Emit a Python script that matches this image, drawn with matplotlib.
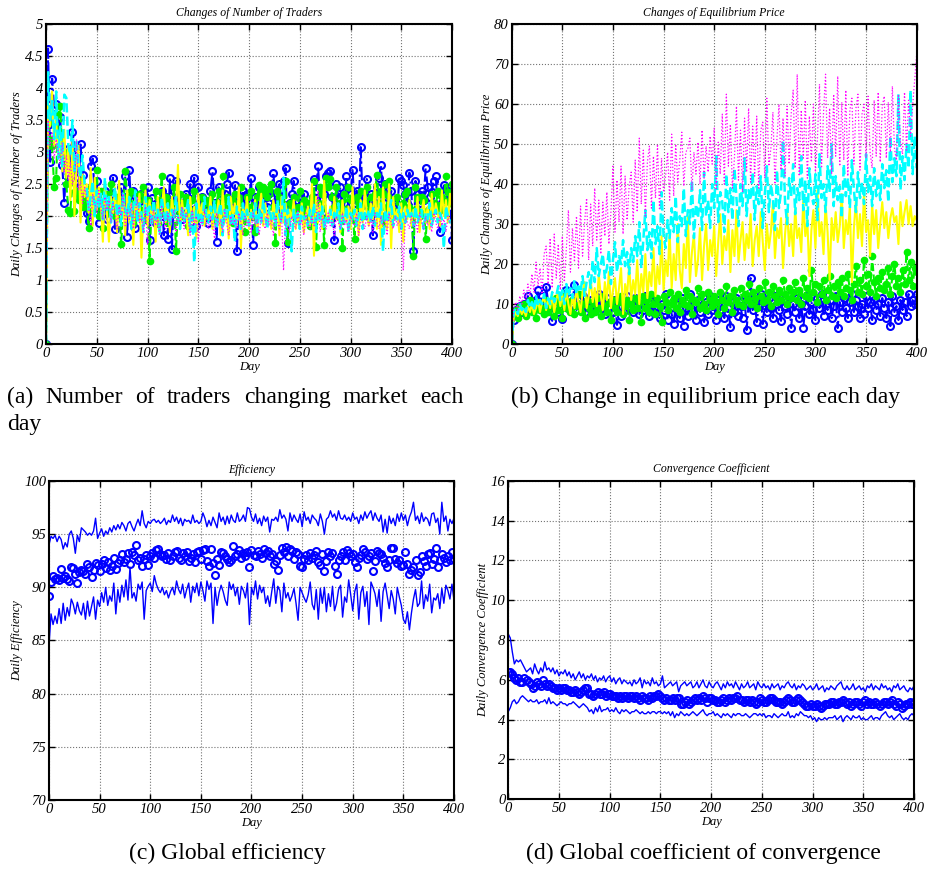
import numpy as np
import matplotlib.pyplot as plt
from matplotlib.ticker import FormatStrFormatter

# days sampled every 2 days
days = np.arange(0, 401, 2)

# ---- (a) Changes of Number of Traders ----
traders_blue = [
    0, 4.62, 2.85, 4.15, 3.70, 3.75, 3.30, 3.55, 2.80, 2.20, 2.90, 3.05, 2.60, 3.32, 3.10, 2.75, 2.45, 3.12, 2.65, 2.35,
    2.05, 1.93, 2.78, 2.90, 2.30, 2.55, 1.90, 2.20, 2.05, 2.40, 1.95, 2.15, 2.35, 2.60, 1.80, 2.25, 2.05, 2.45, 2.30, 2.62,
    1.68, 2.72, 2.10, 2.40, 1.82, 2.25, 2.00, 2.35, 2.15, 1.95, 2.45, 1.62, 2.28, 2.10, 1.90, 2.20, 2.05, 2.40, 1.70, 2.30,
    1.65, 2.60, 1.48, 2.40, 2.55, 2.10, 2.30, 1.95, 2.15, 2.35, 2.05, 2.50, 2.20, 2.60, 1.85, 2.45, 2.10, 2.30, 2.00, 2.20,
    1.90, 2.40, 2.70, 2.20, 1.60, 2.45, 2.30, 2.05, 2.35, 2.50, 2.68, 2.25, 1.95, 2.48, 1.45, 2.30, 2.15, 2.40, 2.10, 2.35,
    2.20, 2.60, 1.55, 2.30, 2.05, 2.45, 2.25, 2.40, 2.35, 2.15, 2.40, 2.30, 2.68, 2.20, 2.35, 2.50, 2.10, 2.55, 2.75, 1.58,
    2.20, 2.35, 2.55, 2.15, 2.05, 2.30, 2.20, 2.35, 2.10, 2.00, 2.15, 1.95, 2.58, 2.40, 2.78, 2.25, 2.05, 2.35, 2.62, 2.68,
    2.70, 2.30, 1.62, 2.50, 2.28, 2.45, 2.05, 2.20, 2.62, 2.10, 2.35, 2.72, 2.20, 2.40, 2.05, 3.08, 2.20, 2.30, 2.58, 2.15,
    2.35, 1.70, 2.20, 2.45, 2.60, 2.80, 2.10, 2.50, 2.30, 2.00, 2.40, 2.15, 2.25, 2.05, 2.60, 2.55, 2.48, 2.35, 2.20, 2.68,
    2.40, 1.45, 2.55, 2.35, 2.20, 2.40, 2.25, 2.75, 2.45, 2.30, 2.38, 2.55, 2.62, 2.10, 1.75, 2.20, 2.48, 2.35, 2.40, 2.30,
    1.62]
traders_green = [
    0, 3.45, 3.20, 3.10, 2.45, 2.60, 3.60, 3.72, 2.95, 3.00, 2.50, 2.10, 2.05, 2.70, 2.08, 2.40, 2.25, 2.55, 2.15, 2.35,
    2.20, 1.82, 2.45, 2.10, 2.30, 2.72, 2.00, 2.40, 1.82, 2.20, 2.35, 2.05, 2.50, 2.15, 2.00, 2.30, 2.20, 1.56, 2.10, 2.70,
    2.30, 2.05, 2.40, 1.90, 2.20, 2.00, 2.35, 2.10, 2.45, 1.95, 2.25, 1.30, 2.15, 2.00, 2.40, 1.90, 2.25, 2.62, 2.05, 2.30,
    1.90, 2.20, 2.05, 2.45, 1.45, 2.15, 2.35, 2.00, 2.20, 2.30, 1.85, 2.10, 2.25, 2.40, 1.95, 2.15, 2.05, 2.30, 2.20, 2.00,
    2.25, 2.10, 2.35, 1.95, 2.20, 2.40, 2.05, 2.62, 2.15, 2.30, 2.00, 2.25, 1.90, 2.35, 2.10, 2.20, 2.45, 2.05, 1.75, 2.30,
    2.15, 2.40, 2.00, 1.75, 2.30, 2.48, 2.35, 2.45, 2.40, 2.30, 2.42, 2.50, 2.15, 1.58, 2.40, 2.30, 2.20, 2.10, 2.55, 1.60,
    2.20, 2.05, 2.30, 1.95, 2.15, 2.40, 2.10, 2.25, 2.00, 2.20, 1.85, 2.30, 2.55, 1.52, 2.20, 2.45, 2.35, 1.55, 2.60, 2.45,
    2.58, 2.30, 2.15, 2.45, 2.00, 2.20, 1.50, 2.35, 2.10, 2.45, 2.25, 2.05, 1.65, 2.30, 2.15, 2.40, 2.00, 2.20, 2.45, 2.10,
    2.30, 2.05, 2.35, 2.65, 2.20, 2.40, 1.90, 2.50, 2.15, 2.55, 2.25, 2.10, 2.00, 2.30, 2.05, 1.98, 2.20, 2.35, 2.40, 2.15,
    2.10, 1.38, 2.45, 2.30, 2.00, 2.30, 2.25, 1.65, 2.10, 2.05, 2.35, 2.20, 2.15, 2.40, 2.10, 2.30, 2.25, 2.62, 2.38, 2.20,
    2.50]
traders_yellow = [
    0, 3.80, 3.40, 3.95, 3.10, 3.50, 2.95, 3.30, 2.70, 3.35, 2.60, 3.10, 2.25, 3.20, 2.00, 2.75, 3.10, 1.90, 2.65, 2.30,
    2.50, 2.05, 2.75, 1.85, 2.60, 2.10, 2.45, 2.20, 1.60, 2.50, 2.05, 1.60, 2.30, 2.05, 2.45, 1.75, 2.55, 1.95, 2.20, 1.70,
    2.40, 1.90, 2.20, 1.55, 2.30, 2.00, 2.35, 1.35, 2.05, 2.40, 1.85, 2.25, 1.95, 2.15, 1.60, 2.30, 1.85, 2.10, 2.45, 1.90,
    2.20, 1.75, 2.30, 2.00, 2.10, 2.80, 1.80, 2.25, 1.95, 2.10, 1.70, 2.30, 1.90, 2.15, 1.65, 2.35, 2.00, 2.20, 1.85, 2.10,
    1.95, 2.30, 1.80, 2.15, 2.00, 2.25, 1.70, 2.40, 1.90, 2.10, 1.65, 2.30, 2.00, 2.20, 1.85, 2.45, 1.50, 2.15, 1.95, 2.30,
    1.80, 2.10, 1.95, 2.25, 1.75, 2.05, 2.35, 1.85, 2.20, 1.95, 2.10, 1.80, 2.25, 2.00, 2.15, 1.70, 2.30, 1.90, 2.20, 1.85,
    2.10, 1.95, 2.25, 1.80, 2.05, 1.90, 2.20, 1.75, 2.00, 2.15, 1.85, 2.50, 1.38, 2.30, 1.90, 2.20, 1.80, 2.55, 2.05, 1.90,
    2.15, 1.85, 2.30, 1.95, 2.10, 1.75, 2.25, 2.00, 1.90, 2.15, 1.80, 2.45, 1.95, 2.10, 1.70, 2.25, 1.90, 2.40, 2.05, 1.85,
    2.20, 1.95, 2.50, 1.80, 2.30, 1.55, 2.45, 2.00, 1.80, 2.50, 1.50, 2.30, 1.95, 2.10, 1.75, 2.20, 1.60, 2.15, 1.95, 2.25,
    1.85, 2.10, 1.95, 2.30, 1.75, 2.05, 2.25, 1.90, 2.15, 1.80, 2.35, 1.95, 2.20, 2.05, 1.85, 2.40, 2.00, 2.25, 1.90, 2.35,
    2.10]
traders_cyan = [
    0, 4.25, 3.50, 3.80, 3.20, 3.95, 2.90, 3.40, 2.75, 3.90, 3.85, 3.10, 2.95, 3.50, 2.70, 3.20, 2.80, 2.60, 2.95, 2.50,
    2.45, 2.10, 2.30, 2.55, 2.00, 2.40, 2.15, 2.35, 1.95, 2.60, 2.10, 2.30, 1.90, 2.25, 2.45, 2.00, 2.20, 1.85, 2.35, 2.10,
    2.00, 2.30, 1.80, 2.15, 2.40, 1.90, 2.20, 2.05, 1.75, 2.30, 2.00, 2.15, 1.85, 2.25, 1.95, 2.10, 1.70, 2.30, 2.05, 1.90,
    2.20, 1.85, 2.10, 1.95, 2.30, 2.00, 1.80, 2.15, 1.90, 2.05, 2.25, 1.75, 2.10, 1.28, 2.20, 1.95, 2.05, 1.85, 2.30, 2.00,
    1.90, 2.15, 1.95, 2.25, 1.80, 2.05, 2.20, 1.70, 2.10, 1.95, 2.30, 1.85, 2.05, 1.60, 2.15, 2.00, 1.80, 2.20, 1.95, 2.10,
    1.85, 2.05, 1.95, 2.20, 1.75, 2.10, 1.90, 2.25, 2.00, 1.80, 2.15, 1.95, 2.05, 1.85, 2.25, 2.00, 1.90, 2.60, 1.70, 2.10,
    1.95, 1.45, 2.10, 1.90, 2.05, 1.80, 2.15, 1.95, 2.00, 1.85, 2.10, 1.90, 2.20, 1.75, 2.05, 1.95, 2.15, 1.80, 2.00, 1.90,
    2.10, 1.85, 2.05, 1.95, 2.20, 1.80, 2.00, 1.90, 2.15, 1.75, 2.05, 1.95, 2.10, 1.85, 2.00, 2.20, 1.80, 2.05, 1.95, 2.10,
    1.90, 2.15, 1.85, 2.05, 1.95, 2.20, 1.45, 2.10, 1.90, 2.05, 2.25, 1.85, 2.00, 1.95, 2.15, 1.80, 2.05, 1.90, 2.10, 1.95,
    2.05, 1.85, 2.15, 1.90, 2.00, 2.10, 1.80, 2.05, 1.95, 2.20, 1.85, 2.00, 2.10, 1.90, 2.05, 1.95, 1.50, 2.15, 2.00, 1.90,
    1.95]
traders_magenta = [
    0, 3.50, 3.10, 3.30, 2.90, 3.20, 3.00, 2.80, 3.15, 2.70, 2.95, 2.55, 2.85, 2.50, 2.60, 3.20, 2.40, 2.55, 2.20, 2.45,
    2.30, 2.15, 1.85, 2.35, 2.20, 2.05, 2.40, 2.15, 1.95, 2.30, 2.10, 2.25, 1.90, 2.20, 2.05, 1.80, 2.15, 2.00, 2.35, 1.85,
    2.10, 1.95, 2.20, 1.80, 2.05, 2.30, 1.90, 2.00, 1.75, 2.15, 1.55, 2.05, 1.90, 2.10, 1.85, 2.00, 1.70, 2.15, 1.95, 1.80,
    2.05, 1.85, 1.95, 2.10, 1.75, 2.00, 1.90, 2.15, 1.80, 2.05, 1.95, 1.70, 2.10, 1.85, 2.00, 1.60, 1.95, 1.85, 2.10, 1.90,
    1.80, 2.00, 1.90, 1.65, 2.05, 1.85, 1.95, 1.75, 2.10, 1.90, 1.70, 2.00, 1.85, 1.95, 1.80, 2.05, 1.90, 1.70, 2.00, 1.85,
    1.95, 1.75, 2.05, 1.85, 1.95, 1.70, 2.00, 1.90, 1.80, 2.05, 1.85, 1.95, 1.70, 2.00, 1.90, 1.80, 2.05, 1.15, 1.95, 1.85,
    1.75, 2.00, 1.90, 1.80, 2.10, 1.85, 1.95, 1.70, 2.05, 1.90, 1.80, 2.00, 1.85, 1.95, 2.40, 1.75, 2.00, 1.90, 1.80, 2.05,
    1.85, 1.95, 1.70, 2.00, 1.90, 1.80, 2.05, 1.85, 1.95, 1.75, 2.00, 1.90, 1.85, 2.05, 1.70, 1.95, 1.90, 1.80, 2.00, 1.85,
    1.95, 1.75, 2.05, 1.90, 1.80, 2.00, 1.85, 1.95, 1.70, 2.05, 1.90, 1.80, 2.00, 1.85, 1.95, 1.75, 1.15, 2.00, 1.90, 1.80,
    2.00, 1.85, 1.95, 1.75, 2.05, 1.90, 1.80, 2.00, 1.85, 1.95, 1.75, 2.05, 1.90, 1.80, 2.00, 1.85, 1.95, 1.75, 2.00, 1.90,
    1.85]

# ---- (b) Changes of Equilibrium Price ----
price_blue = [
    0, 6.0, 8.5, 7.5, 9.5, 8.0, 10.0, 9.0, 12.0, 8.5, 10.5, 9.0, 11.0, 13.5, 10.0, 12.0, 9.5, 14.3, 10.5, 9.0,
    5.8, 9.5, 11.0, 8.0, 10.5, 6.2, 12.5, 13.5, 9.0, 11.5, 10.0, 14.7, 8.5, 11.0, 9.5, 12.0, 8.0, 10.5, 9.0, 11.0,
    8.5, 10.5, 9.0, 12.5, 8.0, 10.0, 7.5, 11.5, 9.0, 10.5, 8.0, 11.0, 4.8, 9.5, 7.0, 10.5, 8.5, 12.0, 9.0, 10.5,
    8.0, 11.5, 9.5, 7.5, 10.0, 8.5, 12.0, 9.0, 7.0, 10.5, 8.0, 11.0, 9.5, 6.5, 10.0, 8.5, 12.5, 6.0, 9.0, 7.5,
    5.0, 10.0, 8.0, 6.5, 11.5, 4.5, 9.0, 7.0, 12.5, 8.5, 10.0, 6.0, 11.0, 8.0, 9.5, 5.5, 10.5, 7.5, 12.0, 8.5,
    9.5, 6.0, 11.0, 8.5, 10.0, 6.5, 12.0, 9.0, 4.2, 10.5, 8.0, 11.5, 7.0, 9.5, 6.5, 12.0, 3.5, 10.0, 16.5, 8.5,
    11.0, 5.5, 9.5, 12.5, 5.0, 10.5, 8.0, 11.5, 9.0, 6.5, 12.0, 10.0, 8.5, 5.8, 11.0, 9.5, 7.5, 12.0, 4.0, 10.0,
    8.0, 11.5, 6.5, 10.0, 4.0, 9.5, 12.0, 7.5, 10.5, 8.5, 6.0, 11.5, 9.0, 12.5, 7.0, 10.0, 8.5, 11.0, 6.5, 9.5,
    12.0, 4.0, 10.5, 8.0, 11.5, 9.0, 6.5, 10.5, 12.5, 8.0, 11.0, 9.5, 6.5, 10.0, 7.5, 12.0, 9.0, 10.5, 6.0, 11.0,
    8.5, 10.0, 7.0, 11.5, 9.0, 6.5, 10.5, 4.5, 12.0, 8.0, 9.5, 6.0, 11.0, 8.5, 10.5, 7.0, 12.5, 9.5, 11.0, 10.0,
    12.5]
price_green = [
    0, 7.5, 8.5, 6.5, 9.5, 8.0, 10.0, 7.0, 9.0, 11.0, 8.0, 9.5, 6.5, 10.5, 8.5, 9.0, 7.5, 11.0, 8.0, 10.0,
    9.5, 7.0, 11.5, 8.5, 10.0, 6.5, 12.0, 9.0, 10.5, 8.0, 11.0, 7.5, 9.5, 12.5, 8.0, 10.0, 6.5, 11.0, 9.0, 7.5,
    10.5, 8.0, 11.5, 9.0, 7.0, 12.0, 9.5, 8.0, 10.5, 6.0, 11.0, 9.0, 8.0, 10.5, 12.0, 7.5, 9.5, 11.0, 6.0, 10.0,
    8.5, 11.5, 9.0, 10.5, 5.5, 12.0, 9.0, 11.0, 8.0, 12.5, 10.0, 7.5, 11.5, 9.5, 5.5, 12.0, 10.5, 8.5, 13.0, 10.0,
    11.5, 9.0, 12.5, 8.0, 11.0, 10.0, 13.5, 9.5, 12.0, 7.5, 11.0, 10.5, 14.0, 9.0, 12.5, 10.0, 8.5, 13.0, 11.0, 9.5,
    12.0, 10.5, 7.5, 13.0, 11.0, 9.0, 14.5, 10.5, 12.0, 8.0, 13.5, 11.0, 10.0, 14.0, 9.5, 12.5, 11.0, 15.0, 10.0, 13.0,
    11.5, 9.0, 14.0, 12.0, 10.5, 15.5, 11.0, 13.0, 9.5, 14.5, 12.0, 10.5, 13.5, 11.0, 16.0, 12.5, 10.0, 14.0, 11.5, 13.0,
    15.5, 11.0, 13.5, 10.0, 16.5, 12.0, 14.0, 11.5, 18.5, 13.0, 15.0, 10.5, 14.5, 12.5, 16.0, 11.0, 13.5, 17.0, 12.0, 14.5,
    11.5, 15.5, 13.0, 16.5, 12.0, 14.0, 17.5, 13.5, 11.0, 15.0, 19.5, 13.0, 16.0, 12.5, 21.0, 14.5, 17.5, 13.0, 22.0, 15.5,
    12.0, 16.5, 14.0, 18.0, 13.5, 15.0, 19.0, 12.5, 17.0, 20.0, 14.5, 16.5, 13.0, 18.5, 15.0, 23.0, 16.0, 20.5, 14.5, 19.0,
    18.0]
price_yellow = [
    0, 6.5, 8.0, 7.0, 9.0, 7.5, 8.5, 7.0, 9.5, 8.0, 10.0, 7.5, 9.0, 11.0, 8.0, 10.5, 12.0, 8.5, 11.5, 9.0,
    12.5, 8.0, 11.0, 13.0, 9.5, 12.5, 8.5, 13.5, 10.0, 7.5, 12.0, 9.0, 14.0, 10.5, 8.0, 13.0, 15.5, 9.0, 12.0, 16.5,
    10.5, 14.0, 9.5, 17.5, 12.0, 8.5, 15.5, 11.0, 18.0, 9.0, 13.5, 16.5, 10.0, 14.0, 19.0, 7.5, 15.0, 12.0, 20.0, 11.0,
    16.0, 12.5, 21.0, 10.0, 17.5, 13.0, 22.5, 11.5, 18.0, 14.5, 24.0, 12.0, 19.5, 15.0, 27.0, 13.5, 21.0, 17.0, 28.0, 14.0,
    22.5, 16.0, 30.0, 18.5, 14.0, 25.0, 19.0, 32.0, 15.5, 23.0, 27.5, 17.0, 21.0, 29.0, 16.0, 24.5, 30.0, 18.5, 26.0, 22.0,
    29.5, 17.0, 25.5, 32.5, 20.0, 27.0, 23.5, 31.0, 18.0, 28.5, 22.0, 33.5, 20.5, 26.0, 30.5, 21.0, 27.5, 24.0, 32.5, 19.5,
    26.0, 29.5, 22.0, 33.0, 25.5, 18.5, 30.0, 24.0, 28.0, 35.5, 21.5, 29.0, 26.5, 31.5, 19.0, 27.5, 33.5, 24.5, 30.0, 22.0,
    34.0, 26.5, 29.0, 23.0, 36.0, 27.0, 31.0, 17.0, 28.5, 33.5, 24.0, 38.5, 27.0, 30.5, 22.5, 35.0, 28.0, 16.0, 31.5, 26.0,
    33.0, 25.5, 29.5, 37.5, 24.0, 31.0, 27.5, 34.5, 15.5, 29.0, 36.0, 26.5, 32.5, 24.5, 38.0, 28.0, 31.0, 22.0, 35.0, 27.5,
    33.5, 24.0, 30.0, 35.5, 29.0, 33.0, 26.5, 31.5, 34.0, 30.5, 32.0, 25.0, 35.5, 29.5, 33.0, 36.0, 30.0, 34.5, 29.5, 32.0,
    31.0]
price_cyan = [
    0, 8.0, 9.0, 7.5, 10.0, 8.5, 9.5, 8.0, 11.0, 9.0, 10.5, 8.5, 12.0, 9.5, 11.0, 10.0, 12.5, 9.0, 11.5, 10.0,
    13.0, 10.5, 12.0, 14.5, 11.0, 13.5, 10.0, 15.0, 12.0, 14.0, 11.5, 16.0, 12.5, 14.5, 13.0, 17.0, 12.0, 15.5, 18.0, 14.0,
    21.0, 15.5, 24.0, 17.0, 20.0, 22.5, 16.5, 19.0, 23.5, 15.0, 21.0, 25.5, 18.0, 22.0, 20.0, 26.0, 19.5, 23.0, 17.5, 24.0,
    20.5, 27.0, 22.0, 30.5, 19.0, 26.0, 33.5, 23.5, 28.0, 21.5, 36.0, 25.0, 29.5, 22.5, 38.0, 27.0, 24.0, 31.0, 26.5, 34.0,
    28.0, 37.0, 25.5, 32.0, 29.5, 39.0, 27.0, 33.5, 30.0, 41.0, 26.5, 35.0, 31.5, 38.5, 28.5, 43.0, 32.0, 36.0, 29.0, 40.0,
    34.0, 47.0, 30.5, 38.0, 35.5, 28.0, 42.5, 33.0, 39.0, 31.0, 44.0, 36.5, 29.5, 40.0, 34.5, 46.5, 32.0, 38.5, 36.0, 43.0,
    31.0, 39.5, 35.0, 42.0, 29.0, 37.5, 44.5, 33.0, 40.0, 36.5, 28.5, 43.5, 34.0, 38.0, 51.0, 35.5, 30.0, 41.5, 37.0, 45.0,
    32.5, 39.0, 36.0, 47.0, 33.5, 41.0, 29.5, 44.0, 37.5, 35.0, 42.5, 31.0, 47.5, 36.5, 40.0, 33.0, 44.5, 38.0, 50.0, 34.5,
    42.0, 36.0, 39.5, 31.5, 45.0, 37.0, 41.5, 34.0, 46.0, 38.5, 33.0, 43.0, 36.5, 40.5, 35.0, 47.5, 38.0, 42.0, 34.5, 44.0,
    37.0, 41.5, 36.0, 45.0, 39.0, 43.5, 35.5, 52.0, 40.5, 46.5, 42.0, 62.5, 38.5, 47.0, 41.0, 50.0, 44.0, 63.5, 42.5, 52.0,
    44.0]
price_magenta = [
    0, 9.0, 10.5, 8.5, 12.0, 10.0, 13.5, 11.0, 15.0, 12.0, 17.5, 13.0, 20.5, 14.5, 19.0, 12.5, 22.5, 24.5, 15.0, 26.5,
    14.0, 27.5, 16.5, 25.0, 13.5, 27.0, 15.5, 24.0, 33.5, 18.0, 29.0, 20.5, 32.0, 19.0, 34.5, 22.0, 30.5, 36.5, 21.0, 35.0,
    24.5, 39.0, 26.0, 36.0, 22.5, 35.5, 27.0, 38.0, 25.0, 33.0, 44.5, 28.0, 41.0, 30.5, 44.5, 27.5, 42.0, 31.0, 39.5, 43.0,
    30.5, 46.0, 33.0, 51.5, 35.0, 48.5, 32.0, 45.5, 49.5, 34.0, 47.0, 36.5, 50.0, 33.5, 46.5, 38.0, 42.0, 48.0, 36.0, 52.5,
    37.0, 50.0, 40.5, 46.0, 53.0, 39.5, 48.0, 49.0, 51.5, 38.5, 48.0, 42.5, 50.5, 40.0, 53.5, 41.5, 49.5, 43.0, 52.0, 45.0,
    54.0, 38.5, 50.5, 42.5, 57.5, 40.0, 62.5, 44.5, 55.0, 39.0, 46.5, 59.5, 41.0, 53.5, 38.0, 56.5, 43.0, 59.0, 40.5, 54.5,
    42.0, 57.0, 39.0, 53.5, 55.5, 41.5, 61.5, 44.5, 49.0, 58.0, 40.0, 51.5, 60.0, 43.5, 56.5, 42.0, 59.5, 45.0, 57.5, 63.5,
    44.0, 67.5, 42.0, 58.5, 46.5, 61.0, 41.5, 57.0, 45.5, 60.0, 43.0, 51.5, 65.0, 44.0, 58.0, 67.5, 46.5, 59.0, 42.5, 62.5,
    47.0, 67.0, 44.5, 60.5, 46.0, 63.5, 42.0, 58.5, 61.5, 45.0, 59.0, 62.5, 43.5, 57.5, 60.0, 46.5, 62.0, 48.0, 44.0, 61.0,
    47.0, 63.0, 45.5, 59.5, 62.0, 46.5, 60.5, 48.0, 64.5, 49.0, 46.0, 62.5, 50.0, 47.5, 63.0, 48.5, 61.0, 52.0, 59.5, 66.0,
    72.5]

# ---- (c) Efficiency ----
eff_upper = [
    94.0, 94.8, 94.6, 94.9, 94.3, 94.8, 94.5, 93.6, 94.2, 93.8, 95.0, 95.3, 94.6, 93.2, 94.9, 94.3, 95.6, 95.4, 95.2, 94.9,
    95.1, 94.9, 95.3, 96.5, 94.6, 95.1, 95.5, 94.8, 95.3, 95.0, 95.6, 95.2, 95.8, 95.4, 95.9, 95.5, 96.1, 95.8, 95.3, 96.0,
    96.2, 95.7, 95.3, 95.9, 96.4, 95.8, 97.2, 96.0, 95.6, 96.2, 96.0, 96.3, 96.4, 96.1, 96.3, 96.0, 96.2, 96.5, 95.9, 96.3,
    96.1, 96.8, 96.2, 96.6, 96.0, 96.5, 95.8, 96.4, 96.2, 96.3, 96.0, 96.8, 96.1, 96.3, 96.0, 96.2, 97.0, 96.5, 95.7, 96.3,
    95.8, 96.6, 96.1, 95.6, 97.0, 96.2, 96.6, 95.9, 96.7, 96.0, 96.8, 96.3, 96.1, 97.0, 96.2, 96.4, 96.8, 96.2, 97.5, 97.4,
    96.6, 96.2, 96.9, 96.0, 96.5, 95.8, 96.7, 96.2, 96.6, 95.2, 96.4, 96.3, 96.6, 96.2, 97.3, 96.5, 96.8, 96.4, 95.3, 97.0,
    96.2, 96.8, 96.4, 96.1, 96.9, 95.7, 97.1, 96.3, 96.6, 96.0, 96.8, 96.5, 96.3, 95.8, 96.9, 96.2, 95.0, 96.4, 96.6, 97.2,
    96.6, 96.9, 96.3, 97.2, 96.5, 96.4, 96.8, 96.3, 96.6, 96.2, 97.0, 96.4, 96.6, 96.0, 96.8, 96.3, 97.1, 96.5, 96.9, 97.2,
    96.3, 97.0, 96.5, 96.2, 96.8, 95.2, 96.4, 95.1, 96.7, 96.0, 96.5, 95.8, 96.9, 96.2, 97.0, 96.3, 96.8, 95.8, 96.6, 97.1,
    98.0, 96.3, 96.7, 96.0, 97.0, 96.2, 96.6, 96.4, 95.8, 96.9, 97.0, 96.1, 96.5, 95.0, 98.0, 96.2, 96.7, 95.3, 96.4, 96.0,
    96.5]
eff_mean = [
    89.2, 90.5, 91.1, 90.8, 90.9, 90.7, 91.7, 90.9, 91.1, 90.8, 90.6, 91.9, 91.8, 91.3, 90.4, 91.4, 91.6, 91.5, 91.3, 92.2,
    91.9, 91.0, 91.6, 92.3, 92.1, 91.5, 92.2, 92.6, 91.8, 92.4, 91.6, 92.0, 92.8, 91.7, 92.3, 92.6, 93.1, 92.4, 92.7, 93.2,
    92.2, 93.3, 93.0, 94.0, 92.6, 92.8, 92.0, 92.7, 93.0, 92.1, 92.9, 93.2, 92.8, 93.5, 93.6, 93.1, 92.9, 93.0, 92.7, 93.2,
    92.6, 92.9, 93.3, 93.4, 92.8, 92.6, 93.2, 92.9, 93.3, 92.5, 92.8, 93.1, 92.4, 93.3, 93.4, 92.7, 93.5, 93.6, 92.5, 92.0,
    93.6, 92.3, 91.2, 92.7, 92.1, 93.3, 93.2, 92.9, 92.7, 92.4, 92.6, 93.9, 92.9, 93.1, 93.5, 92.8, 93.2, 92.9, 93.3, 91.9,
    93.5, 93.0, 92.9, 93.4, 93.1, 92.8, 93.6, 93.2, 93.4, 92.9, 93.1, 92.2, 92.5, 91.6, 93.0, 93.7, 93.3, 93.8, 92.9, 93.6,
    93.4, 92.7, 93.3, 93.1, 92.0, 91.9, 92.7, 93.0, 92.6, 93.2, 92.8, 93.0, 93.4, 92.4, 92.1, 93.1, 91.5, 92.5, 93.3, 92.9,
    93.2, 92.0, 91.3, 92.6, 92.9, 93.3, 92.6, 93.5, 93.2, 92.9, 93.1, 92.4, 91.9, 92.8, 93.0, 93.6, 93.3, 92.7, 92.9, 93.2,
    91.5, 92.5, 93.4, 93.2, 93.1, 92.8, 92.3, 91.9, 92.6, 93.7, 93.7, 92.7, 92.3, 92.6, 92.0, 92.1, 93.3, 92.2, 91.3, 91.6,
    91.9, 92.6, 91.2, 91.4, 92.9, 92.5, 92.0, 93.1, 93.2, 92.2, 92.7, 93.7, 91.9, 92.6, 93.1, 92.8, 92.4, 92.9, 92.6, 93.3,
    92.7]
eff_lower = [
    84.5, 87.5, 86.5, 87.3, 86.6, 88.0, 86.6, 88.5, 86.9, 88.1, 87.3, 88.9, 88.4, 87.5, 88.6, 87.8, 87.4, 88.5, 87.0, 88.7,
    87.3, 88.2, 89.1, 87.0, 88.8, 88.2, 89.5, 88.6, 90.0, 88.3, 89.2, 88.7, 90.4, 87.5, 89.8, 88.6, 90.2, 89.1, 90.7, 88.8,
    91.9, 89.0, 89.5, 88.7, 90.3, 89.8, 90.5, 87.0, 89.7, 90.1, 90.4, 89.6, 91.1, 90.3, 89.8, 89.5, 90.0, 89.3, 89.7, 89.0,
    89.6, 90.0, 89.3, 90.6, 89.8, 89.4, 90.3, 89.0, 89.8, 90.4, 88.6, 90.1, 89.5, 90.4, 89.2, 90.5, 89.7, 88.7, 90.6, 89.8,
    90.4, 86.6, 90.0, 88.3, 89.5, 90.2, 89.6, 88.8, 88.3, 90.5, 89.8, 90.3, 89.2, 90.0, 88.4, 90.1, 89.7, 89.0, 90.4, 86.5,
    90.0, 89.3, 90.6, 88.9, 90.2, 89.5, 90.0, 88.5, 89.2, 88.2, 89.6, 90.8, 88.5, 90.1, 89.7, 87.7, 90.4, 89.0, 89.5, 88.7,
    89.2, 89.9, 88.5, 86.9, 90.0, 89.5, 89.0, 88.6, 89.3, 90.5, 88.4, 87.9, 89.8, 87.0, 89.9, 88.5, 90.0, 87.7, 89.4, 88.2,
    90.1, 87.8, 88.5, 89.8, 90.2, 87.2, 89.1, 88.6, 90.7, 89.3, 87.8, 89.6, 90.3, 87.0, 89.5, 90.1, 88.2, 89.6, 86.5, 90.5,
    90.0, 89.4, 88.2, 89.8, 86.8, 89.6, 90.4, 89.2, 88.0, 89.7, 88.9, 87.5, 90.0, 89.1, 88.3, 87.0, 86.6, 87.7, 86.0, 87.6,
    88.9, 89.8, 88.2, 88.5, 90.6, 88.0, 89.3, 88.7, 90.3, 87.6, 89.0, 88.8, 89.4, 88.0, 89.9, 88.5, 90.2, 89.7, 88.9, 90.3,
    88.8]

# ---- (d) Convergence Coefficient ----
conv_upper = [
    8.3, 8.1, 7.4, 6.8, 7.0, 6.9, 7.0, 6.8, 6.6, 6.4, 6.5, 6.6, 6.3, 6.8, 6.5, 6.3, 6.6, 6.4, 6.9, 6.5,
    6.6, 6.4, 6.6, 6.3, 6.5, 6.2, 6.4, 6.3, 6.5, 6.2, 6.4, 6.1, 6.3, 6.0, 6.2, 6.4, 6.1, 6.3, 6.0, 6.2,
    6.1, 6.3, 6.0, 6.2, 5.9, 6.1, 6.0, 6.2, 5.9, 6.1, 6.2, 5.9, 6.1, 5.8, 6.0, 6.1, 5.8, 6.0, 5.9, 5.8,
    5.9, 5.7, 6.0, 5.8, 5.9, 6.1, 5.6, 6.0, 5.8, 5.9, 5.7, 6.1, 5.8, 5.9, 5.7, 5.8, 6.2, 5.6, 5.7, 5.8,
    5.9, 5.7, 5.8, 5.9, 5.4, 5.7, 5.8, 5.9, 5.7, 5.8, 5.9, 5.6, 5.7, 5.9, 5.6, 5.8, 6.0, 5.7, 5.6, 5.9,
    5.7, 5.6, 5.8, 5.9, 5.7, 5.5, 5.8, 5.6, 5.9, 5.7, 5.8, 5.6, 5.9, 5.7, 5.5, 5.8, 5.6, 5.7, 5.9, 5.6,
    5.7, 5.8, 5.5, 5.9, 5.7, 5.6, 5.8, 5.6, 5.7, 5.5, 5.8, 5.6, 5.7, 5.8, 5.5, 5.7, 5.6, 5.8, 5.9, 5.7,
    5.6, 5.8, 5.5, 5.7, 5.6, 5.8, 5.7, 5.5, 5.6, 5.7, 5.5, 5.6, 5.8, 5.5, 5.6, 5.7, 5.4, 5.6, 5.5, 5.7,
    5.6, 5.5, 5.7, 5.8, 5.9, 5.6, 5.5, 5.7, 5.5, 5.6, 5.8, 5.5, 5.6, 5.7, 5.5, 5.6, 5.4, 5.7, 5.6, 5.8,
    5.5, 5.7, 5.6, 5.5, 5.8, 5.6, 5.7, 5.5, 5.6, 5.4, 5.7, 5.6, 5.8, 5.5, 5.6, 5.7, 5.5, 5.4, 5.6, 5.5,
    5.7]
conv_mean = [
    6.4, 6.4, 6.3, 6.1, 6.0, 6.1, 5.9, 5.9, 6.1, 6.0, 5.9, 5.8, 5.6, 5.7, 5.9, 5.8, 5.7, 6.0, 5.8, 5.7,
    5.8, 5.7, 5.6, 5.6, 5.5, 5.6, 5.5, 5.6, 5.6, 5.5, 5.5, 5.4, 5.4, 5.5, 5.4, 5.3, 5.4, 5.5, 5.6, 5.6,
    5.3, 5.3, 5.2, 5.3, 5.4, 5.3, 5.3, 5.4, 5.2, 5.3, 5.3, 5.2, 5.2, 5.2, 5.1, 5.2, 5.1, 5.2, 5.2, 5.1,
    5.2, 5.2, 5.1, 5.2, 5.1, 5.0, 5.2, 5.1, 5.1, 5.0, 5.2, 5.1, 5.2, 5.2, 5.3, 5.2, 5.1, 5.0, 5.1, 5.0,
    5.0, 5.1, 5.0, 5.1, 5.1, 4.8, 4.8, 4.9, 5.0, 4.8, 4.9, 5.0, 5.1, 5.0, 5.1, 5.0, 5.2, 5.1, 4.9, 5.1,
    5.1, 5.0, 5.0, 4.9, 4.9, 5.0, 5.1, 4.9, 5.0, 5.1, 5.0, 5.1, 5.1, 5.2, 5.0, 5.0, 4.9, 5.0, 5.0, 4.9,
    5.0, 4.9, 4.8, 4.9, 5.1, 5.0, 4.9, 4.9, 5.0, 5.1, 5.1, 5.0, 4.9, 4.9, 4.9, 4.8, 4.9, 5.0, 5.1, 5.0,
    4.9, 4.9, 5.0, 5.1, 5.0, 4.9, 4.8, 4.7, 4.7, 4.8, 4.7, 4.7, 4.8, 4.7, 4.6, 4.7, 4.8, 4.8, 4.8, 4.9,
    4.9, 4.8, 4.8, 4.9, 4.9, 5.0, 4.9, 4.8, 4.9, 4.7, 4.8, 4.9, 4.9, 4.8, 4.7, 4.9, 5.0, 4.8, 4.9, 4.8,
    4.8, 4.9, 4.8, 4.7, 4.8, 4.9, 4.9, 4.8, 4.9, 5.0, 4.8, 4.7, 4.9, 4.8, 4.6, 4.7, 4.8, 4.8, 4.9, 4.8,
    4.9]
conv_lower = [
    4.4, 4.6, 4.9, 5.0, 4.8, 4.9, 5.1, 5.2, 5.1, 5.0, 4.9, 5.0, 4.9, 4.9, 5.0, 4.8, 4.9, 4.9, 5.0, 4.8,
    5.1, 4.8, 4.9, 4.8, 4.7, 4.8, 4.9, 4.8, 4.8, 4.7, 4.8, 4.8, 4.9, 4.8, 4.7, 4.6, 4.7, 4.8, 4.7, 4.6,
    4.4, 4.5, 4.3, 4.6, 4.4, 4.7, 4.4, 4.5, 4.5, 4.6, 4.4, 4.5, 4.4, 4.6, 4.4, 4.3, 4.5, 4.4, 4.5, 4.4,
    4.3, 4.4, 4.4, 4.5, 4.4, 4.3, 4.4, 4.3, 4.3, 4.4, 4.3, 4.4, 4.4, 4.3, 4.4, 4.4, 4.3, 4.4, 4.3, 4.4,
    4.2, 4.4, 4.1, 4.3, 4.2, 4.4, 4.3, 4.2, 4.3, 4.2, 4.3, 4.4, 4.3, 4.2, 4.3, 4.4, 4.5, 4.3, 4.2, 4.3,
    4.3, 4.4, 4.2, 4.3, 4.2, 4.1, 4.3, 4.2, 4.3, 4.2, 4.1, 4.3, 4.2, 4.3, 4.3, 4.2, 4.2, 4.3, 4.2, 4.1,
    4.2, 4.3, 4.3, 4.2, 4.3, 4.2, 4.3, 4.1, 4.2, 4.2, 4.1, 4.3, 4.2, 4.1, 4.2, 4.3, 4.2, 4.2, 4.4, 4.1,
    4.2, 4.1, 4.3, 4.2, 4.4, 4.3, 4.2, 4.2, 4.1, 4.2, 4.0, 4.1, 3.9, 4.1, 4.0, 4.0, 4.1, 4.0, 4.1, 4.1,
    4.1, 4.2, 4.0, 4.1, 4.2, 3.9, 4.1, 4.2, 4.1, 4.0, 4.2, 4.1, 4.1, 4.2, 4.0, 4.1, 4.0, 4.0, 4.1, 4.2,
    4.0, 4.1, 4.1, 4.0, 4.2, 4.3, 4.4, 4.2, 4.1, 4.2, 4.0, 4.1, 4.2, 4.3, 4.1, 4.0, 4.1, 4.0, 4.2, 4.3,
    4.2]

plt.rcParams['font.family'] = 'Liberation Serif'

fig = plt.figure(figsize=(9.28, 8.69), dpi=100)

ax_a = fig.add_axes([0.0496, 0.6041, 0.4375, 0.368])
ax_b = fig.add_axes([0.5514, 0.6041, 0.4364, 0.368])
ax_c = fig.add_axes([0.0528, 0.0794, 0.4364, 0.3671])
ax_d = fig.add_axes([0.5477, 0.0802, 0.4372, 0.3666])


def style_axes(ax, ylim, yticks, title, ylabel):
    ax.set_xlim(0, 400)
    ax.set_ylim(*ylim)
    ax.set_xticks(range(0, 401, 50))
    ax.set_yticks(yticks)
    ax.xaxis.set_major_formatter(FormatStrFormatter('%g'))
    ax.yaxis.set_major_formatter(FormatStrFormatter('%g'))
    ax.tick_params(direction='in', top=True, right=True, length=4, width=1,
                   labelsize=10.5, pad=2)
    for lab in ax.get_xticklabels() + ax.get_yticklabels():
        lab.set_style('italic')
    ax.grid(True, linestyle=':', color='0.45', linewidth=0.8)
    for s in ax.spines.values():
        s.set_linewidth(1.5)
    ax.set_title(title, fontsize=8.5, style='italic', pad=6)
    ax.set_ylabel(ylabel, fontsize=9, style='italic', labelpad=1)
    ax.set_xlabel('Day', fontsize=9, style='italic', labelpad=1)


def five_series(ax, blue, green, yellow, cyan, magenta):
    ax.plot(days, blue, color='blue', ls='-.', lw=1.5, marker='o', ms=5,
            mfc='none', mec='blue', mew=1.5)
    ax.plot(days, green, color=(0, 0.95, 0), ls='--', lw=1.5, marker='o', ms=4.5,
            mfc=(0, 0.95, 0), mec=(0, 0.95, 0))
    ax.plot(days, yellow, color='yellow', ls='-', lw=1.5)
    ax.plot(days, cyan, color='cyan', ls='--', lw=1.8)
    ax.plot(days, magenta, color='magenta', ls=':', lw=0.9)


five_series(ax_a, traders_blue, traders_green, traders_yellow, traders_cyan, traders_magenta)
style_axes(ax_a, (0, 5), np.arange(0, 5.01, 0.5), 'Changes of Number of Traders',
           'Daily Changes of Number of Traders')

five_series(ax_b, price_blue, price_green, price_yellow, price_cyan, price_magenta)
style_axes(ax_b, (0, 80), range(0, 81, 10), 'Changes of Equilibrium Price',
           'Daily Changes of Equilibrium Price')

for ax, up, mid, lo in [(ax_c, eff_upper, eff_mean, eff_lower),
                        (ax_d, conv_upper, conv_mean, conv_lower)]:
    ax.plot(days, up, color='blue', lw=1)
    ax.plot(days, lo, color='blue', lw=1)
    ax.plot(days, mid, ls='none', marker='o', ms=5, mfc='none', mec='blue', mew=1.5)

style_axes(ax_c, (70, 100), range(70, 101, 5), 'Efficiency', 'Daily Efficiency')
style_axes(ax_d, (0, 16), range(0, 17, 2), 'Convergence Coefficient',
           'Daily Convergence Coefficient')

# captions
cap = dict(fontsize=17, va='center')
W = 928.0

# caption (a) is justified across the column, so place word by word
words_a = '(a) Number of traders changing market each'.split()
texts_a = [fig.text(0, 0.5431, w, ha='left', **cap) for w in words_a]
renderer = fig.canvas.get_renderer()
widths = [t.get_window_extent(renderer).width for t in texts_a]
x0, x1 = 7.0, 464.0
gap = (x1 - x0 - sum(widths)) / (len(words_a) - 1)
x = x0
for t, w in zip(texts_a, widths):
    t.set_x(x / W)
    x += w + gap

fig.text(x0 / W, 0.511, 'day', ha='left', **cap)
fig.text(0.76, 0.5431, '(b) Change in equilibrium price each day', ha='center', **cap)
fig.text(0.2446, 0.0184, '(c) Global efficiency', ha='center', **cap)
fig.text(0.7575, 0.0184, '(d) Global coefficient of convergence', ha='center', **cap)

fig.savefig('out.png', dpi=100)
